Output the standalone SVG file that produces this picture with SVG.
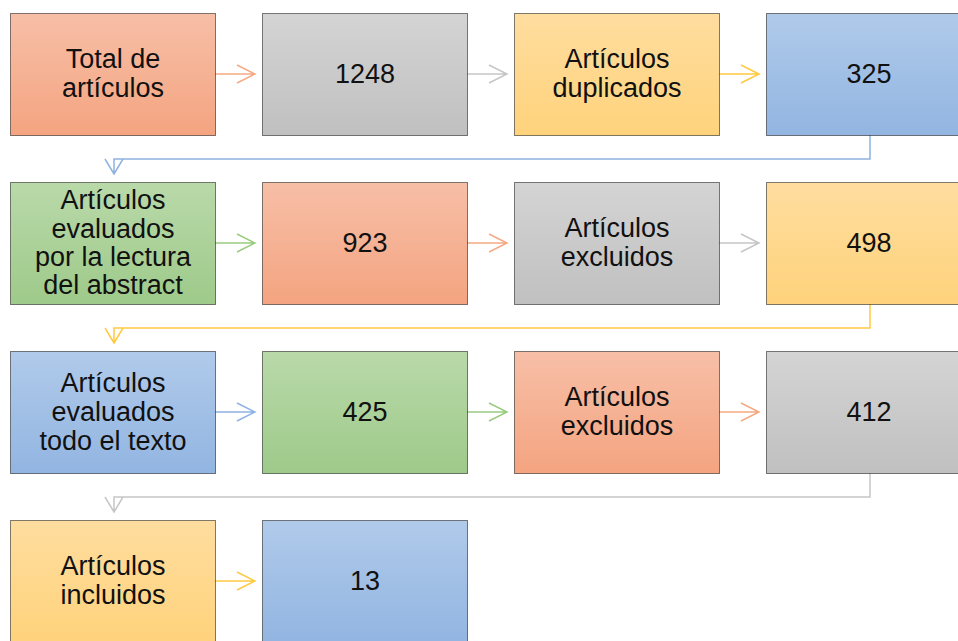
<svg xmlns="http://www.w3.org/2000/svg" width="958" height="641" viewBox="0 0 958 641">
<defs>
<linearGradient id="gO" x1="0" y1="0" x2="0" y2="1"><stop offset="0" stop-color="#F7BFA7"/><stop offset="1" stop-color="#F4A480"/></linearGradient>
<linearGradient id="gG" x1="0" y1="0" x2="0" y2="1"><stop offset="0" stop-color="#D4D4D4"/><stop offset="1" stop-color="#C0C0C0"/></linearGradient>
<linearGradient id="gY" x1="0" y1="0" x2="0" y2="1"><stop offset="0" stop-color="#FFDD9F"/><stop offset="1" stop-color="#FFD37C"/></linearGradient>
<linearGradient id="gB" x1="0" y1="0" x2="0" y2="1"><stop offset="0" stop-color="#B0CAEA"/><stop offset="1" stop-color="#92B5E1"/></linearGradient>
<linearGradient id="gN" x1="0" y1="0" x2="0" y2="1"><stop offset="0" stop-color="#B9D9A9"/><stop offset="1" stop-color="#9ECA8A"/></linearGradient>
</defs>
<style>
.box{stroke:#000;stroke-opacity:0.5;stroke-width:1}
.t{font-family:"Liberation Sans",Arial,sans-serif;font-size:27px;fill:#111;text-anchor:middle}
.c{fill:none;stroke-width:1.5}
.o{stroke:#F5A984}.g{stroke:#C6C6C6}.y{stroke:#FFC940}.b{stroke:#8EB3E0}.n{stroke:#9BCB80}
</style>
<rect width="958" height="641" fill="#fff"/>
<g id="connectors">
<path class="c o" d="M215,74H255M237,65L255,74L237,83"/>
<path class="c g" d="M467,74H507M489,65L507,74L489,83"/>
<path class="c y" d="M719,74H759M741,65L759,74L741,83"/>
<path class="c b" d="M870,135V159H114V174M105,159L114,174L123,159"/>
<path class="c n" d="M215,243H255M237,234L255,243L237,252"/>
<path class="c o" d="M467,243H507M489,234L507,243L489,252"/>
<path class="c g" d="M719,243H759M741,234L759,243L741,252"/>
<path class="c y" d="M870,304V328H114V343M105,328L114,343L123,328"/>
<path class="c b" d="M215,412H255M237,403L255,412L237,421"/>
<path class="c n" d="M467,412H507M489,403L507,412L489,421"/>
<path class="c o" d="M719,412H759M741,403L759,412L741,421"/>
<path class="c g" d="M870,473V497H114V512M105,497L114,512L123,497"/>
<path class="c y" d="M215,581H255M237,572L255,581L237,590"/>
</g>
<g id="n1"><rect class="box" x="10.5" y="13.5" width="205" height="122" fill="url(#gO)"/><text class="t" x="113" y="68">Total de</text><text class="t" x="113" y="97">artículos</text></g>
<g id="n2"><rect class="box" x="262.5" y="13.5" width="205" height="122" fill="url(#gG)"/><text class="t" x="365" y="83">1248</text></g>
<g id="n3"><rect class="box" x="514.5" y="13.5" width="205" height="122" fill="url(#gY)"/><text class="t" x="617" y="68">Artículos</text><text class="t" x="617" y="97">duplicados</text></g>
<g id="n4"><rect class="box" x="766.5" y="13.5" width="205" height="122" fill="url(#gB)"/><text class="t" x="869" y="83">325</text></g>
<g id="n5"><rect class="box" x="10.5" y="182.5" width="205" height="122" fill="url(#gN)"/><text class="t" x="113" y="209">Artículos</text><text class="t" x="113" y="237.5">evaluados</text><text class="t" x="113" y="266">por la lectura</text><text class="t" x="113" y="294">del abstract</text></g>
<g id="n6"><rect class="box" x="262.5" y="182.5" width="205" height="122" fill="url(#gO)"/><text class="t" x="365" y="252">923</text></g>
<g id="n7"><rect class="box" x="514.5" y="182.5" width="205" height="122" fill="url(#gG)"/><text class="t" x="617" y="237">Artículos</text><text class="t" x="617" y="266">excluidos</text></g>
<g id="n8"><rect class="box" x="766.5" y="182.5" width="205" height="122" fill="url(#gY)"/><text class="t" x="869" y="252">498</text></g>
<g id="n9"><rect class="box" x="10.5" y="351.5" width="205" height="122" fill="url(#gB)"/><text class="t" x="113" y="392">Artículos</text><text class="t" x="113" y="421">evaluados</text><text class="t" x="113" y="449.5">todo el texto</text></g>
<g id="n10"><rect class="box" x="262.5" y="351.5" width="205" height="122" fill="url(#gN)"/><text class="t" x="365" y="421">425</text></g>
<g id="n11"><rect class="box" x="514.5" y="351.5" width="205" height="122" fill="url(#gO)"/><text class="t" x="617" y="406">Artículos</text><text class="t" x="617" y="435">excluidos</text></g>
<g id="n12"><rect class="box" x="766.5" y="351.5" width="205" height="122" fill="url(#gG)"/><text class="t" x="869" y="421">412</text></g>
<g id="n13"><rect class="box" x="10.5" y="520.5" width="205" height="122" fill="url(#gY)"/><text class="t" x="113" y="575">Artículos</text><text class="t" x="113" y="604">incluidos</text></g>
<g id="n14"><rect class="box" x="262.5" y="520.5" width="205" height="122" fill="url(#gB)"/><text class="t" x="365" y="590">13</text></g>
</svg>
